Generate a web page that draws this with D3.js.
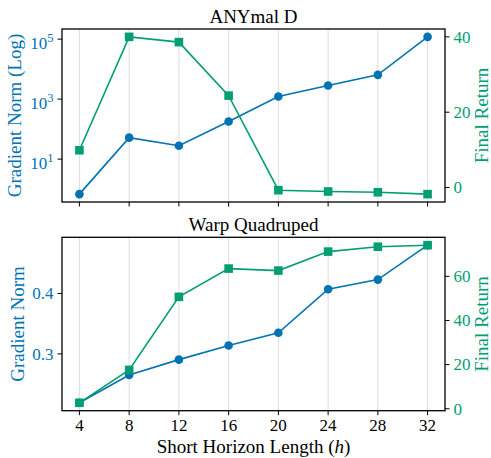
<!DOCTYPE html>
<html>
<head>
<meta charset="utf-8">
<script src="https://cdn.jsdelivr.net/npm/d3@7/dist/d3.min.js"></script>
<style>
  body { margin: 0; background: #fff; }
  svg text { font-family: "Liberation Serif", "DejaVu Serif", serif; }
</style>
</head>
<body>
<div id="chart"></div>
<script>
// 横轴：短视野长度 h
const horizons = [4, 8, 12, 16, 20, 24, 28, 32];
const xTicks = [4, 8, 12, 16, 20, 24, 28, 32];

// ANYmal D（梯度范数用对数轴）
const anymalGradNorm = [0.68, 52, 28, 180, 1220, 2850, 6450, 119000];
const anymalReturn = [9.9, 40.0, 38.6, 24.4, -0.7, -1.05, -1.25, -1.75];
const anymalGradTicks = [10, 1000, 100000];
const anymalReturnTicks = [0, 20, 40];

// Warp Quadruped
const warpGradNorm = [0.219, 0.265, 0.2905, 0.314, 0.335, 0.407, 0.423, 0.48];
const warpReturn = [2.7, 17.6, 50.7, 63.5, 62.6, 71.2, 73.4, 74.1];
const warpGradTicks = [0.3, 0.4];
const warpReturnTicks = [0, 20, 40, 60];

const titles = ['ANYmal D', 'Warp Quadruped'];
const leftLabels = ['Gradient Norm (Log)', 'Gradient Norm'];
const rightLabel = 'Final Return';

const blue = '#0173b2';
const green = '#029e73';

const width = 491, height = 458;
const axLeft = 62, axRight = 445;
const panels = [
  { top: 29, bottom: 202 },
  { top: 237.3, bottom: 410.7 }
];

const svg = d3.select('#chart').append('svg')
  .attr('width', width)
  .attr('height', height);

// matplotlib 默认 5% 边距
function padded(ext, log) {
  if (log) {
    const a = Math.log10(ext[0]), b = Math.log10(ext[1]);
    const m = (b - a) * 0.05;
    return [Math.pow(10, a - m), Math.pow(10, b + m)];
  }
  const m = (ext[1] - ext[0]) * 0.05;
  return [ext[0] - m, ext[1] + m];
}

const x = d3.scaleLinear()
  .domain(padded(d3.extent(horizons)))
  .range([axLeft, axRight]);

function drawPanel(i, grad, ret, gradTicks, retTicks, log) {
  const p = panels[i];
  const g = svg.append('g');

  const yL = (log ? d3.scaleLog() : d3.scaleLinear())
    .domain(padded(d3.extent(grad), log))
    .range([p.bottom, p.top]);
  const yR = d3.scaleLinear()
    .domain(padded(d3.extent(ret)))
    .range([p.bottom, p.top]);

  // 竖直网格线
  g.selectAll('.grid').data(xTicks).enter().append('line')
    .attr('x1', d => x(d)).attr('x2', d => x(d))
    .attr('y1', p.top).attr('y2', p.bottom)
    .attr('stroke', '#dedede').attr('stroke-width', 1);

  const series = [
    { vals: grad, y: yL, color: blue, shape: 'circle' },
    { vals: ret, y: yR, color: green, shape: 'square' }
  ];

  series.forEach(s => {
    const pts = horizons.map((h, k) => [x(h), s.y(s.vals[k])]);
    g.append('path')
      .attr('d', d3.line()(pts))
      .attr('fill', 'none')
      .attr('stroke', s.color)
      .attr('stroke-width', 1.6);
    if (s.shape === 'circle') {
      g.selectAll(null).data(pts).enter().append('circle')
        .attr('cx', d => d[0]).attr('cy', d => d[1])
        .attr('r', 4.3).attr('fill', s.color);
    } else {
      g.selectAll(null).data(pts).enter().append('rect')
        .attr('x', d => d[0] - 4.3).attr('y', d => d[1] - 4.3)
        .attr('width', 8.6).attr('height', 8.6).attr('fill', s.color);
    }
  });

  // 边框
  g.append('rect')
    .attr('x', axLeft).attr('y', p.top)
    .attr('width', axRight - axLeft).attr('height', p.bottom - p.top)
    .attr('fill', 'none').attr('stroke', '#000').attr('stroke-width', 1.3);

  // x 轴刻度
  g.selectAll('.xt').data(xTicks).enter().append('line')
    .attr('x1', d => x(d)).attr('x2', d => x(d))
    .attr('y1', p.bottom).attr('y2', p.bottom + 4.5)
    .attr('stroke', '#000').attr('stroke-width', 1);
  if (i === 1) {
    g.selectAll('.xl').data(xTicks).enter().append('text')
      .attr('x', d => x(d)).attr('y', p.bottom + 20.5)
      .attr('text-anchor', 'middle')
      .style('font-size', '17px')
      .text(d => d);
  }

  // 左轴刻度
  g.selectAll('.lt').data(gradTicks).enter().append('line')
    .attr('x1', axLeft - 4.5).attr('x2', axLeft)
    .attr('y1', d => yL(d)).attr('y2', d => yL(d))
    .attr('stroke', '#000').attr('stroke-width', 1);
  const lt = g.selectAll('.ll').data(gradTicks).enter().append('text')
    .attr('x', axLeft - 8.5)
    .attr('text-anchor', 'end')
    .attr('fill', blue)
    .style('font-size', '17px');
  if (log) {
    lt.attr('y', d => yL(d) + 9.5).each(function(d) {
      const t = d3.select(this);
      t.append('tspan').text('10');
      t.append('tspan').attr('dy', -7).style('font-size', '12.5px')
        .text(Math.round(Math.log10(d)));
    });
  } else {
    lt.attr('y', d => yL(d) + 5.8).text(d => d.toFixed(1));
  }

  // 右轴刻度
  g.selectAll('.rt').data(retTicks).enter().append('line')
    .attr('x1', axRight).attr('x2', axRight + 4.5)
    .attr('y1', d => yR(d)).attr('y2', d => yR(d))
    .attr('stroke', '#000').attr('stroke-width', 1);
  g.selectAll('.rl').data(retTicks).enter().append('text')
    .attr('x', axRight + 8.5).attr('y', d => yR(d) + 5.8)
    .attr('fill', green)
    .style('font-size', '17px')
    .text(d => d);

  // 标题与轴标签
  const cy = (p.top + p.bottom) / 2;
  g.append('text')
    .attr('x', (axLeft + axRight) / 2).attr('y', p.top - 6)
    .attr('text-anchor', 'middle')
    .style('font-size', '19px')
    .text(titles[i]);
  g.append('text')
    .attr('transform', `translate(${log ? 21 : 24}, ${cy}) rotate(-90)`)
    .attr('text-anchor', 'middle')
    .attr('fill', blue)
    .style('font-size', '19px')
    .text(leftLabels[i]);
  g.append('text')
    .attr('transform', `translate(488, ${cy}) rotate(-90)`)
    .attr('text-anchor', 'middle')
    .attr('fill', green)
    .style('font-size', '19px')
    .text(rightLabel);
}

drawPanel(0, anymalGradNorm, anymalReturn, anymalGradTicks, anymalReturnTicks, true);
drawPanel(1, warpGradNorm, warpReturn, warpGradTicks, warpReturnTicks, false);

// x 轴标签
const xl = svg.append('text')
  .attr('x', (axLeft + axRight) / 2).attr('y', 453)
  .attr('text-anchor', 'middle')
  .style('font-size', '19px');
xl.append('tspan').text('Short Horizon Length (');
xl.append('tspan').style('font-style', 'italic').text('h');
xl.append('tspan').text(')');
</script>
</body>
</html>
